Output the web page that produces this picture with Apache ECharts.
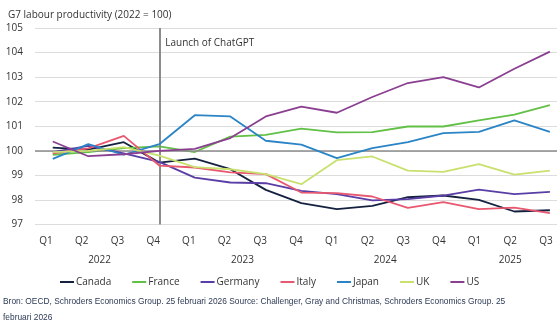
<!DOCTYPE html>
<html>
<head>
<meta charset="utf-8">
<script src="https://cdn.jsdelivr.net/npm/echarts@6/dist/echarts.min.js"></script>
<style>
  html, body { margin: 0; padding: 0; background: #fff; }
  #chart { width: 560px; height: 326px; }
</style>
</head>
<body>
<div id="chart"></div>
<script>
// Quarterly labour productivity, index 2022 = 100
const quarters = ['Q1','Q2','Q3','Q4','Q1','Q2','Q3','Q4','Q1','Q2','Q3','Q4','Q1','Q2','Q3'];
const years = ['2022', '2023', '2024', '2025'];
const yearCentres = [1.5, 5.5, 9.5, 13];

const canada  = [100.13, 100.05, 100.35, 99.52, 99.68, 99.25, 98.41, 97.87, 97.63, 97.76, 98.11, 98.18, 98.00, 97.53, 97.58];
const france  = [99.84, 99.95, 100.11, 100.18, 99.95, 100.58, 100.65, 100.90, 100.75, 100.76, 100.99, 100.99, 101.24, 101.47, 101.86];
const germany = [99.95, 100.20, 99.90, 99.55, 98.91, 98.71, 98.68, 98.37, 98.24, 97.98, 98.03, 98.18, 98.42, 98.24, 98.33];
const italy   = [99.90, 100.10, 100.61, 99.40, 99.32, 99.12, 99.05, 98.30, 98.28, 98.14, 97.68, 97.91, 97.63, 97.69, 97.46];
const japan   = [99.67, 100.27, 99.84, 100.27, 101.45, 101.40, 100.41, 100.25, 99.70, 100.11, 100.35, 100.72, 100.77, 101.24, 100.77];
const uk      = [99.95, 100.00, 100.15, 99.80, 99.34, 99.25, 99.05, 98.64, 99.62, 99.77, 99.19, 99.14, 99.46, 99.03, 99.19];
const us      = [100.38, 99.78, 99.86, 100.00, 100.08, 100.52, 101.40, 101.80, 101.55, 102.19, 102.76, 103.00, 102.58, 103.34, 104.04];

const countryNames = ['Canada', 'France', 'Germany', 'Italy', 'Japan', 'UK', 'US'];
const countryValues = [canada, france, germany, italy, japan, uk, us];
const colours = ['#14213f', '#62c046', '#5a3ea6', '#e85870', '#2a84c6', '#c8e16e', '#8a3f90'];

const launchIndex = 3;      // Q4 2022
const launchLabel = 'Launch of ChatGPT';
const yMin = 97, yMax = 105;

const font = '"Open Sans", "Noto Sans", sans-serif';
const fontSize = 10;
const chart = echarts.init(document.getElementById('chart'), null, { renderer: 'canvas' });

const series = countryNames.map((name, k) => ({
  name: name,
  type: 'line',
  xAxisIndex: 0,
  data: countryValues[k].map((v, i) => [i, v]),
  symbol: 'none',
  lineStyle: { width: 1.8, color: colours[k] },
  itemStyle: { color: colours[k] },
  z: 3 + k,
  animation: false
}));

// reference lines: the 100 baseline and the launch marker
series.push({
  name: 'refs',
  type: 'line',
  data: [],
  silent: true,
  z: 2,
  markLine: {
    symbol: 'none',
    silent: true,
    animation: false,
    label: { show: false },
    data: [
      { yAxis: 100, lineStyle: { color: '#8c8c8c', width: 1.5, type: 'solid' } },
      { xAxis: launchIndex, lineStyle: { color: '#8c8c8c', width: 2, type: 'solid' } }
    ]
  }
});

const hiddenAxisParts = { axisLine: { show: false }, axisTick: { show: false }, splitLine: { show: false } };

chart.setOption({
  animation: false,
  textStyle: { fontFamily: font },
  title: {
    text: 'G7 labour productivity (2022 = 100)',
    left: 3, top: 5,
    textStyle: { fontFamily: font, fontSize: fontSize, fontWeight: 'normal', color: '#333' }
  },
  legend: {
    data: countryNames,
    left: 55, top: 272,
    icon: 'rect',
    itemWidth: 14, itemHeight: 2,
    itemGap: 21,
    textStyle: { fontFamily: font, fontSize: fontSize, color: '#333', padding: [0, 0, 0, -3] }
  },
  grid: { left: 35, right: 3, top: 28, bottom: 101.5, containLabel: false },
  xAxis: [
    // axis carrying the series
    Object.assign({ type: 'value', min: -0.5, max: 14.2, axisLabel: { show: false } }, hiddenAxisParts),
    // quarter labels
    Object.assign({
      type: 'value', min: -0.308, max: 14.308, position: 'bottom',
      axisLabel: {
        customValues: quarters.map((q, i) => i),
        formatter: v => quarters[Math.round(v)],
        margin: 12, fontFamily: font, fontSize: fontSize, color: '#333'
      }
    }, hiddenAxisParts),
    // year labels
    Object.assign({
      type: 'value', min: -0.308, max: 14.308, position: 'bottom',
      axisLabel: {
        customValues: yearCentres,
        formatter: v => years[yearCentres.indexOf(v)],
        margin: 31, fontFamily: font, fontSize: fontSize, color: '#333'
      }
    }, hiddenAxisParts)
  ],
  yAxis: {
    type: 'value', min: yMin, max: yMax, interval: 1,
    axisLine: { show: false }, axisTick: { show: false },
    axisLabel: { margin: 12, fontFamily: font, fontSize: fontSize, color: '#333' },
    splitLine: { lineStyle: { color: '#dcdcdc', width: 1 } }
  },
  series: series
});

// launch annotation next to the marker line
const px = chart.convertToPixel({ xAxisIndex: 0, yAxisIndex: 0 }, [launchIndex, 104.35]);
chart.setOption({
  graphic: [
    {
      type: 'text', left: px[0] + 6, top: px[1] - 6,
      style: { text: launchLabel, font: fontSize + 'px ' + font, fill: '#333' }
    },
    {
      type: 'text', left: 3, top: 294,
      style: {
        text: 'Bron: OECD, Schroders Economics Group. 25 februari 2026 Source: Challenger, Gray and Christmas, Schroders Economics Group. 25\nfebruari 2026',
        font: '8.4px "Liberation Sans", Arial, sans-serif',
        fill: '#2e3b55',
        lineHeight: 16
      }
    }
  ]
});
</script>
</body>
</html>
